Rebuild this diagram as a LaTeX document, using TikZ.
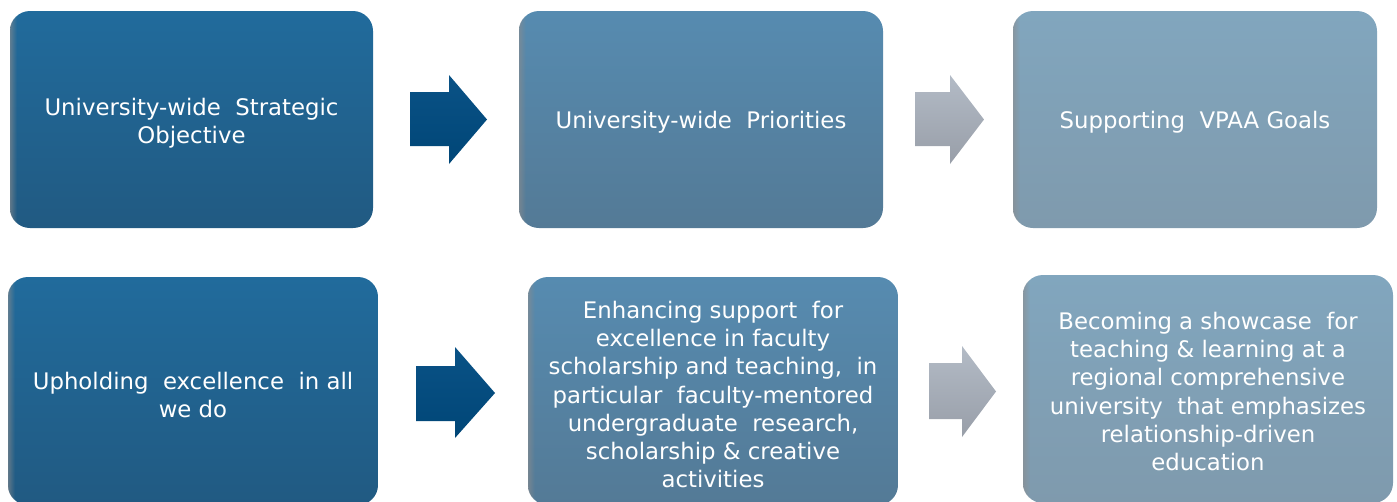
\documentclass[tikz,border=0pt]{standalone}
\usepackage{fontspec}
\setmainfont{DejaVu Sans}
\usetikzlibrary{fadings}
\definecolor{bAtop}{HTML}{216B9C}
\definecolor{bAbot}{HTML}{215A82}
\definecolor{bBtop}{HTML}{568BB0}
\definecolor{bBbot}{HTML}{547A96}
\definecolor{bCtop}{HTML}{81A6BE}
\definecolor{bCbot}{HTML}{7F9AAD}
\definecolor{arBtop}{HTML}{0A5286}
\definecolor{arBbot}{HTML}{004677}
\definecolor{arGtop}{HTML}{B3BBC6}
\definecolor{arGbot}{HTML}{989EA8}
\begin{document}
\begin{tikzpicture}[x=1pt,y=-1pt]
\useasboundingbox (0,0) rectangle (1397,501);
\tikzset{
  box/.style={rectangle, rounded corners=20pt, inner sep=0pt},
  boxA/.style={box, top color=bAtop, bottom color=bAbot},
  boxB/.style={box, top color=bBtop, bottom color=bBbot},
  boxC/.style={box, top color=bCtop, bottom color=bCbot},
  txt/.style={inner sep=0pt, text=white, align=center,
    font=\fontsize{22.8}{28.2}\selectfont},
  arrowblue/.style={top color=arBtop, bottom color=arBbot},
  arrowgrey/.style={top color=arGtop, bottom color=arGbot},
  edgeshade/.style={fill=black!45, path fading=east, opacity=0.6},
}
% boxes
\node[boxA, minimum width=363pt, minimum height=217pt] (b1) at (191.5,119.5) {};
\node[boxB, minimum width=364pt, minimum height=217pt] (b2) at (701,119.5) {};
\node[boxC, minimum width=364pt, minimum height=217pt] (b3) at (1195,119.5) {};
\node[boxA, minimum width=370pt, minimum height=228pt] (b4) at (193,391) {};
\node[boxB, minimum width=370pt, minimum height=228pt] (b5) at (713,391) {};
\node[boxC, minimum width=370pt, minimum height=228pt] (b6) at (1208,389) {};
% left edge shading of boxes
\foreach \b in {b1,b2,b3,b4,b5,b6}{
  \begin{scope}
    \clip[rounded corners=20pt] (\b.north west) rectangle (\b.south east);
    \fill[edgeshade] (\b.north west) rectangle ([xshift=7pt]\b.south west);
  \end{scope}
}
% texts
\node[txt] (t1) at ([yshift=-3.5pt]b1.center) {University-wide\ \ Strategic\\Objective};
\node[txt] (t2) at ([yshift=-3pt]b2.center) {University-wide\ \ Priorities};
\node[txt] (t3) at ([yshift=-3pt]b3.center) {Supporting\ \ VPAA Goals};
\node[txt] (t4) at ([yshift=-4pt]b4.center) {Upholding\ \ excellence\ \ in\ all\\we do};
\node[txt] (t5) at ([yshift=-3.5pt]b5.center)
  {Enhancing support\ \ for\\excellence in faculty\\scholarship and teaching,\ \ in\\particular\ \ faculty-mentored\\undergraduate\ \ research,\\scholarship \& creative\\activities};
\node[txt] (t6) at ([yshift=-2.5pt]b6.center)
  {Becoming a showcase\ \ for\\teaching \& learning at a\\regional comprehensive\\university\ \ that emphasizes\\relationship-driven\\education};
% block arrows
\shade[arrowblue] (410,92) -- (449,92) -- (449,75) -- (487,119.5) -- (449,164) -- (449,146) -- (410,146) -- cycle;
\shade[arrowgrey] (915,92) -- (950,92) -- (950,75) -- (984,119.5) -- (950,164) -- (950,146) -- (915,146) -- cycle;
\shade[arrowblue] (416,366) -- (455,366) -- (455,347) -- (495,393) -- (455,438) -- (455,421) -- (416,421) -- cycle;
\shade[arrowgrey] (929,363) -- (962,363) -- (962,346) -- (996,391.5) -- (962,437) -- (962,419) -- (929,419) -- cycle;
\end{tikzpicture}
\end{document}
